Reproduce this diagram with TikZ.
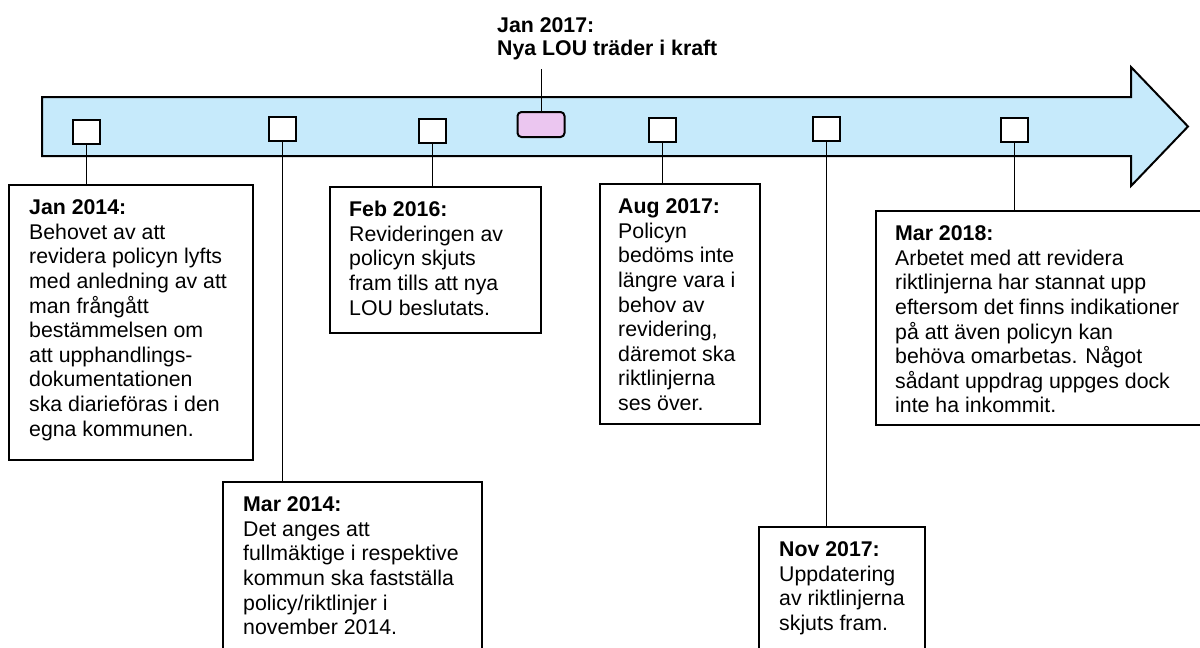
\documentclass[tikz,border=0pt]{standalone}
\usepackage{fontspec}
\setmainfont{Liberation Sans}
\definecolor{arrowblue}{RGB}{198,234,251}
\definecolor{pinkbox}{RGB}{235,198,240}
\tikzset{
  txtfont/.style={font=\fontsize{21.3}{24.6}\selectfont},
  evbox/.style={draw=black, line width=2pt, fill=white, inner sep=0pt, anchor=north west},
  sqbox/.style={draw=black, line width=2pt, fill=white, inner sep=0pt, minimum width=27pt, minimum height=24pt},
  pinkmark/.style={draw=black, line width=2pt, fill=pinkbox, rounded corners=4pt, inner sep=0pt, minimum width=47pt, minimum height=25pt},
  evtext/.style={txtfont, align=left, inner sep=0pt, anchor=north west},
  conn/.style={draw=black, line width=1pt}
}
\begin{document}
\begin{tikzpicture}[x=1pt, y=-1pt]
\useasboundingbox (0,0) rectangle (1200,648);
\clip (0,0) rectangle (1200,648);
% big arrow
\draw[line width=2pt, fill=arrowblue, line join=miter]
  (42,97) -- (1131,97) -- (1131,67) -- (1188,126.5) -- (1131,186) -- (1131,156) -- (42,156) -- cycle;

% markers
\node[sqbox] (s1) at (86.5,132) {};
\node[sqbox] (s2) at (282.5,129) {};
\node[sqbox] (s3) at (432.5,130.5) {};
\node[pinkmark] (pk) at (541,124.5) {};
\node[sqbox] (s4) at (662.5,129.5) {};
\node[sqbox] (s5) at (826.5,128.5) {};
\node[sqbox] (s6) at (1014,130) {};

% boxes
\node[evbox, minimum width=244pt, minimum height=275pt] (b1) at (8,184) {};
\node[evbox, minimum width=259pt, minimum height=190pt] (b2) at (222,481) {};
\node[evbox, minimum width=211pt, minimum height=146pt] (b3) at (329,186) {};
\node[evbox, minimum width=160pt, minimum height=240pt] (b4) at (599,183) {};
\node[evbox, minimum width=166pt, minimum height=145pt] (b5) at (758,526) {};
\node[evbox, minimum width=340pt, minimum height=214pt] (b6) at (875,210) {};

% connectors
\draw[conn] (s1.south) -- (s1.south |- b1.north);
\draw[conn] (s2.south) -- (s2.south |- b2.north);
\draw[conn] (s3.south) -- (s3.south |- b3.north);
\draw[conn] (s4.south) -- (s4.south |- b4.north);
\draw[conn] (s5.south) -- (s5.south |- b5.north);
\draw[conn] (s6.south) -- (s6.south |- b6.north);
\coordinate (pktop) at (541,69);
\draw[conn] (pk.north) -- (pktop);

% texts
\node[evtext] (t1) at (29,197.3) {\strut\textbf{Jan 2014:}\\Behovet av att\\revidera policyn lyfts\\med anledning av att\\man frångått\\bestämmelsen om\\att upphandlings-\\dokumentationen\\ska diarieföras i den\\egna kommunen.};
\node[evtext] (t2) at (243,494.3) {\strut\textbf{Mar 2014:}\\Det anges att\\fullmäktige i respektive\\kommun ska fastställa\\policy/riktlinjer i\\november 2014.};
\node[evtext] (t3) at (349,199.3) {\strut\textbf{Feb 2016:}\\Revideringen av\\policyn skjuts\\fram tills att nya\\LOU beslutats.};
\node[evtext] (t4) at (618,196.3) {\strut\textbf{Aug 2017:}\\Policyn\\bedöms inte\\längre vara i\\behov av\\revidering,\\däremot ska\\riktlinjerna\\ses över.};
\node[evtext] (t5) at (779,539.3) {\strut\textbf{Nov 2017:}\\Uppdatering\\av riktlinjerna\\skjuts fram.};
\node[evtext] (t6) at (895,223.3) {\strut\textbf{Mar 2018:}\\Arbetet med att revidera\\riktlinjerna har stannat upp\\eftersom det finns indikationer\\på att även policyn kan\\behöva omarbetas. Något\\sådant uppdrag uppges dock\\inte ha inkommit.};
\node[align=left, inner sep=0pt, anchor=north west, font=\fontsize{21.3}{23}\selectfont\bfseries] (hd) at (497,16.5) {\strut Jan 2017:\\Nya LOU träder i kraft};
\end{tikzpicture}
\end{document}
